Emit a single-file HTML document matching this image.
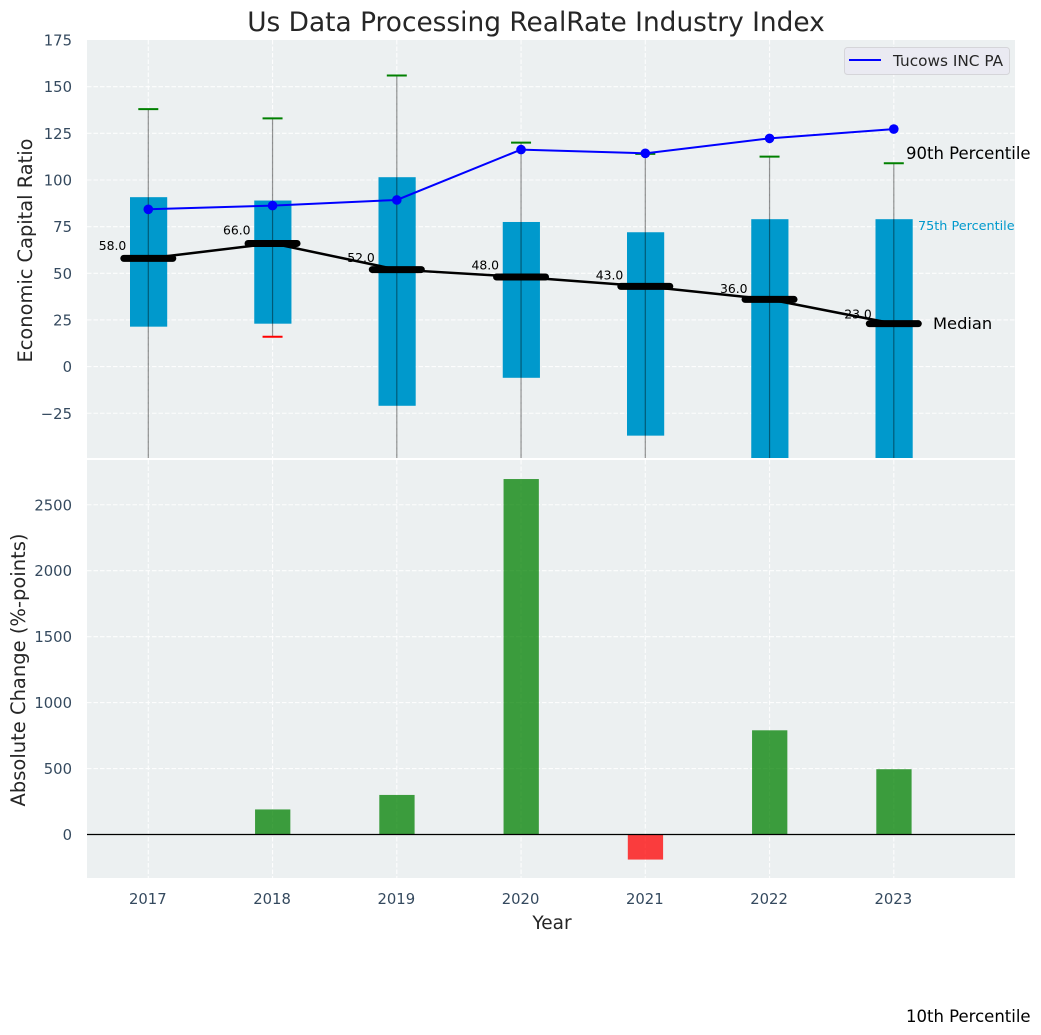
<!DOCTYPE html>
<html lang="en">
<head>
<meta charset="utf-8">
<title>Us Data Processing RealRate Industry Index</title>
<style>
html,body{margin:0;padding:0;background:#fff;}
svg{display:block;font-family:"DejaVu Sans","Liberation Sans",sans-serif;}
</style>
</head>
<body>
<svg id="chart" xmlns="http://www.w3.org/2000/svg" width="1041" height="1035" viewBox="0 0 1041 1035">
  <defs>
    <clipPath id="top-clip"><rect x="87" y="40" width="928" height="418"></rect></clipPath>
    <clipPath id="bottom-clip"><rect x="87" y="460" width="928" height="418"></rect></clipPath>
  </defs>
  <rect x="87" y="40" width="928" height="418" fill="#ecf0f1"></rect>
  <rect x="87" y="460" width="928" height="418" fill="#ecf0f1"></rect>
  <g id="grid-layer"></g>
  <g id="top-marks" clip-path="url(#top-clip)"></g>
  <g id="bottom-marks" clip-path="url(#bottom-clip)"></g>
  <g id="tick-layer"></g>

  <text x="536" y="31" text-anchor="middle" font-size="26.4" fill="#262626">Us Data Processing RealRate Industry Index</text>
  <text transform="translate(32,250.5) rotate(-90)" text-anchor="middle" font-size="19.4" fill="#262626">Economic Capital Ratio</text>
  <text transform="translate(25,670) rotate(-90)" text-anchor="middle" font-size="19.5" fill="#262626">Absolute Change (%-points)</text>
  <text x="552" y="929" text-anchor="middle" font-size="18.5" fill="#262626">Year</text>

  <text x="906" y="159" font-size="16.5" fill="#000">90th Percentile</text>
  <text x="918" y="230" font-size="12.8" fill="#0099cc">75th Percentile</text>
  <text x="933" y="329" font-size="16.3" fill="#000">Median</text>
  <text x="906" y="1022" font-size="16.5" fill="#000">10th Percentile</text>

  <g>
    <rect x="844.5" y="47.5" width="165" height="27" rx="3" fill="#eaeaf2" stroke="#d5d5d9" stroke-width="1"></rect>
    <line x1="849" y1="60" x2="881" y2="60" stroke="#0000ff" stroke-width="2"></line>
    <text x="893" y="66" font-size="15.3" fill="#262626">Tucows INC PA</text>
  </g>
</svg>
<script>
var years = [2017, 2018, 2019, 2020, 2021, 2022, 2023];
var p90 = [138, 133, 156, 120, 114, 112.5, 109];
var p75 = [90.8, 89, 101.5, 77.5, 72, 79, 79];
var median = [58, 66, 52, 48, 43, 36, 23];
var p25 = [21.4, 23, -21, -6, -37, -60, -70];
var p10 = [-70, 16, -90, -80, -100, -120, -130];
var company = [84.3, 86.3, 89.3, 116.3, 114.3, 122.3, 127.3];
var change = [0, 190, 300, 2695, -190, 790, 495];
var topTicks = [175, 150, 125, 100, 75, 50, 25, 0, -25];
var bottomTicks = [2500, 2000, 1500, 1000, 500, 0];

var NS = 'http://www.w3.org/2000/svg';
function xPos(year) { return 148.3 + (year - 2017) * 124.25; }
function yTop(v) { return 366.6 - v * 1.866; }
function yBottom(v) { return 834.5 - v * 0.1319; }
function make(tag, parent, attrs) {
  var el = document.createElementNS(NS, tag);
  for (var k in attrs) { el.setAttribute(k, attrs[k]); }
  parent.appendChild(el);
  return el;
}
function fmtTick(v) { return v < 0 ? '\u2212' + Math.abs(v) : String(v); }

var gridLayer = document.getElementById('grid-layer');
var topMarks = document.getElementById('top-marks');
var bottomMarks = document.getElementById('bottom-marks');
var tickLayer = document.getElementById('tick-layer');
var gridStyle = { stroke: '#ffffff', 'stroke-width': 1.1, 'stroke-dasharray': '4.5 2', opacity: 0.9 };

topTicks.forEach(function (t) {
  var y = yTop(t);
  if (t !== 175) {
    var g = make('line', gridLayer, Object.assign({ x1: 87, x2: 1015, y1: y, y2: y }, gridStyle));
    
    
  }
  var lab = make('text', tickLayer, { x: 72, y: y + 5.5, 'text-anchor': 'end', 'font-size': 14.8, fill: '#34495e' });
  lab.textContent = fmtTick(t);
  
  
});
bottomTicks.forEach(function (t) {
  var y = yBottom(t);
  var g = make('line', gridLayer, Object.assign({ x1: 87, x2: 1015, y1: y, y2: y }, gridStyle));
  
  
  var lab = make('text', tickLayer, { x: 72, y: y + 5.5, 'text-anchor': 'end', 'font-size': 14.8, fill: '#34495e' });
  lab.textContent = fmtTick(t);
  
  
});
years.forEach(function (yr) {
  var x = xPos(yr);
  var g1 = make('line', gridLayer, Object.assign({ x1: x, x2: x, y1: 40, y2: 458 }, gridStyle));
  
  
  var g2 = make('line', gridLayer, Object.assign({ x1: x, x2: x, y1: 460, y2: 878 }, gridStyle));
  
  
  var lab = make('text', tickLayer, { x: x - 0.5, y: 904, 'text-anchor': 'middle', 'font-size': 14.8, fill: '#34495e' });
  lab.textContent = String(yr);
  
  
});

/* interquartile bars */
years.forEach(function (yr, i) {
  var x = xPos(yr);
  var yT = yTop(p75[i]);
  var yB = yTop(p25[i]);
  var r = make('rect', topMarks, { x: x - 18.3, width: 37.2, y: yT, height: yB - yT, fill: '#0099cc' });
  
  
});

/* median value labels sit under the median line */
years.forEach(function (yr, i) {
  var lab = make('text', topMarks, { x: xPos(yr) - 22, y: yTop(median[i] * 1.043 + 1.9), 'text-anchor': 'end', 'font-size': 12.4, fill: '#000' });
  lab.textContent = median[i].toFixed(1);
  
  
});

/* whiskers and caps */
years.forEach(function (yr, i) {
  var x = xPos(yr);
  var w = make('line', topMarks, { x1: x, x2: x, y1: yTop(p90[i]), y2: yTop(p10[i]), stroke: '#000', 'stroke-opacity': 0.42, 'stroke-width': 1.2 });
  
  
  var capHigh = make('line', topMarks, { x1: x - 10, x2: x + 10, y1: yTop(p90[i]), y2: yTop(p90[i]), stroke: '#008000', 'stroke-width': 2 });
  
  
  var capLow = make('line', topMarks, { x1: x - 10, x2: x + 10, y1: yTop(p10[i]), y2: yTop(p10[i]), stroke: '#ff0000', 'stroke-width': 2 });
  
  
});

/* median line and thick markers */
var medianPts = years.map(function (yr, i) { return xPos(yr) + ',' + yTop(median[i]); }).join(' ');
var medLine = make('polyline', topMarks, { points: medianPts, fill: 'none', stroke: '#000', 'stroke-width': 2.5 });


years.forEach(function (yr, i) {
  var x = xPos(yr);
  var m = make('line', topMarks, { x1: x - 24.5, x2: x + 24.5, y1: yTop(median[i]), y2: yTop(median[i]), stroke: '#000', 'stroke-width': 7, 'stroke-linecap': 'round' });
  
  
});

/* company line */
var companyPts = years.map(function (yr, i) { return xPos(yr) + ',' + yTop(company[i]); }).join(' ');
var coLine = make('polyline', topMarks, { points: companyPts, fill: 'none', stroke: '#0000ff', 'stroke-width': 2 });


years.forEach(function (yr, i) {
  var c = make('circle', topMarks, { cx: xPos(yr), cy: yTop(company[i]), r: 4.8, fill: '#0000ff' });
  
  
});

/* absolute change bars */
years.forEach(function (yr, i) {
  var v = change[i];
  if (v === 0) { return; }
  var y0 = yBottom(0);
  var y1 = yBottom(v);
  var b = make('rect', bottomMarks, { x: xPos(yr) - 17.5, width: 35.3, y: Math.min(y0, y1), height: Math.abs(y1 - y0), fill: v >= 0 ? '#008000' : '#ff0000', 'fill-opacity': 0.75 });
  
  
});
var zero = make('line', bottomMarks, { x1: 87, x2: 1015, y1: yBottom(0), y2: yBottom(0), stroke: '#000', 'stroke-width': 1.2 });


</script>
</body>
</html>
